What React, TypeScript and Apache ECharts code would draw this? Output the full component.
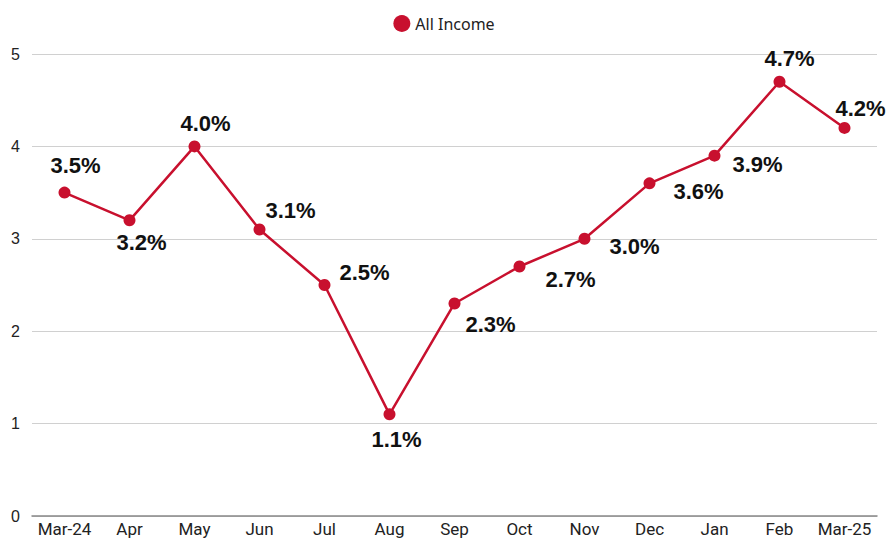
import React, { useEffect, useRef } from "react";
import * as echarts from "echarts";

const categories = ["Mar-24", "Apr", "May", "Jun", "Jul", "Aug", "Sep", "Oct", "Nov", "Dec", "Jan", "Feb", "Mar-25"];
const allIncome = [3.5, 3.2, 4.0, 3.1, 2.5, 1.1, 2.3, 2.7, 3.0, 3.6, 3.9, 4.7, 4.2];
const yTicks = [0, 1, 2, 3, 4, 5];

// label placement per point (style only)
const labelPlacement: { position: string; offset: [number, number]; distance?: number }[] = [
  { position: "top", offset: [11, -5] },
  { position: "bottom", offset: [12, 0] },
  { position: "top", offset: [11, -1] },
  { position: "right", offset: [0, -19], distance: 0 },
  { position: "right", offset: [4, -13] },
  { position: "bottom", offset: [7, 3] },
  { position: "right", offset: [0, 21] },
  { position: "right", offset: [15, 13] },
  { position: "right", offset: [14, 8] },
  { position: "right", offset: [13, 8] },
  { position: "right", offset: [7, 9] },
  { position: "top", offset: [10, -1] },
  { position: "top", offset: [16, 3] },
];

const RED = "#C8102E";

export default function App() {
  const ref = useRef<HTMLDivElement>(null);
  useEffect(() => {
    document.body.style.margin = "0";
    if (!ref.current) return;
    const chart = echarts.init(ref.current, undefined, { renderer: "svg" });
    chart.setOption({
      animation: false,
      backgroundColor: "#ffffff",
      legend: {
        top: 10,
        left: "center",
        itemWidth: 17,
        itemHeight: 17,
        itemGap: 8,
        icon: "circle",
        textStyle: { fontFamily: "'Noto Sans', 'Open Sans', sans-serif", fontSize: 16, color: "#222" },
        data: ["All Income"],
      },
      grid: { left: 32, right: 11, top: 54, bottom: 23, containLabel: false },
      xAxis: {
        type: "category",
        data: categories,
        boundaryGap: true,
        axisLine: { show: true, lineStyle: { color: "#888", width: 1.5 } },
        axisTick: { show: false },
        axisLabel: {
          interval: 0,
          margin: 4,
          fontFamily: "Roboto, 'Liberation Sans', sans-serif",
          fontSize: 17,
          color: "#222",
        },
      },
      yAxis: {
        type: "value",
        min: yTicks[0],
        max: yTicks[yTicks.length - 1],
        interval: 1,
        axisLine: { show: false },
        axisTick: { show: false },
        splitLine: { lineStyle: { color: "#d0d0d0", width: 1 } },
        axisLabel: {
          margin: 12,
          fontFamily: "'Liberation Sans', Arial, sans-serif",
          fontSize: 16,
          color: "#222",
        },
      },
      series: [
        {
          name: "All Income",
          type: "line",
          data: allIncome.map((v, i) => ({
            value: v,
            label: {
              show: true,
              position: labelPlacement[i].position,
              offset: labelPlacement[i].offset,
              distance: labelPlacement[i].distance ?? 5,
            },
          })),
          color: RED,
          symbol: "circle",
          symbolSize: 12,
          lineStyle: { color: RED, width: 2.5 },
          itemStyle: { color: RED },
          label: {
            show: true,
            formatter: (p: any) => p.value.toFixed(1) + "%",
            fontFamily: "'Liberation Sans', Arial, sans-serif",
            fontWeight: "bold",
            fontSize: 22,
            color: "#111",
          },
        },
      ],
    });
    return () => chart.dispose();
  }, []);
  return <div ref={ref} style={{ width: 888, height: 539 }} />;
}
